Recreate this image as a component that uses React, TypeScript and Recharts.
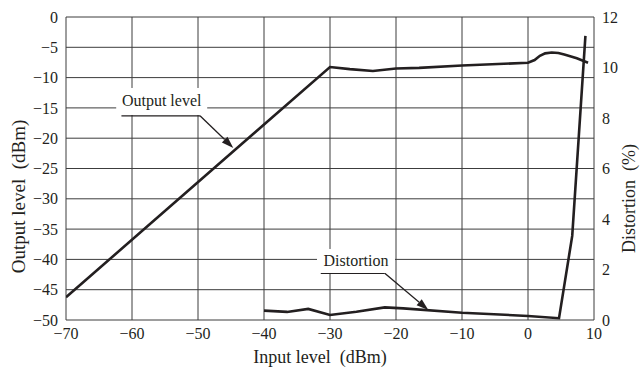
import {
  ComposedChart,
  Line,
  XAxis,
  YAxis,
  CartesianGrid,
  ReferenceLine,
  ReferenceDot,
} from "recharts";

const inputTicks = [-70, -60, -50, -40, -30, -20, -10, 0, 10];
const outputTicks = [-50, -45, -40, -35, -30, -25, -20, -15, -10, -5, 0];
const distortionTicks = [0, 2, 4, 6, 8, 10, 12];

// output level (dBm) vs input level (dBm)
const outInput = [-70, -30, -27, -23.5, -20, -16.5, -10, 0, 1, 1.8, 2.6, 3.6, 4.6, 5.5, 7.4, 9.1];
const outLevel = [-46.25, -8.25, -8.6, -8.9, -8.5, -8.4, -8.0, -7.55, -7.1, -6.4, -6.0, -5.85, -5.95, -6.2, -6.8, -7.55];

// distortion (%) vs input level (dBm)
const distInput = [-40, -36.5, -33.3, -30, -26, -21.7, -18.9, -10, 0, 4.7, 6.7, 8.7];
const distValue = [0.37, 0.32, 0.44, 0.2, 0.33, 0.5, 0.46, 0.29, 0.16, 0.07, 3.33, 11.25];

const outData = outInput.map((x, i) => ({ x, out: outLevel[i] }));
const distData = distInput.map((x, i) => ({ x, dist: distValue[i] }));

const INK = "#231f20";
const FONT = "'Liberation Serif', 'DejaVu Serif', serif";
const tickStyle = { fontSize: 16, fill: INK, fontFamily: FONT };
const labelStyle = { fontSize: 18, fill: INK, fontFamily: FONT };

const fmt = (v: number) => String(v).replace("-", "\u2212");

const arrowShape = (p: any) => {
  const { x1, y1, x2, y2 } = p;
  const a = Math.atan2(y2 - y1, x2 - x1);
  const L = 12;
  const W = 4;
  const bx = x2 - L * Math.cos(a);
  const by = y2 - L * Math.sin(a);
  const pts = `${x2},${y2} ${bx - W * Math.sin(a)},${by + W * Math.cos(a)} ${bx + W * Math.sin(a)},${by - W * Math.cos(a)}`;
  return (
    <g>
      <line x1={x1} y1={y1} x2={bx} y2={by} stroke={INK} strokeWidth={1.3} />
      <polygon points={pts} fill={INK} />
    </g>
  );
};

const boxLabel = (text: string, w: number, h: number) => (p: any) => (
  <g>
    <rect x={p.cx - w / 2} y={p.cy - h / 2} width={w} height={h} fill="#fff" />
    <text x={p.cx} y={p.cy + 5} textAnchor="middle" fontSize={16} fontFamily={FONT} fill={INK}>
      {text}
    </text>
  </g>
);

export default function App() {
  return (
    <div style={{ position: "absolute", left: 0, top: 0, width: 640, height: 372, background: "#fff" }}>
      <ComposedChart width={640} height={372} margin={{ top: 17, right: 0, bottom: 0, left: 0 }}>
        <CartesianGrid yAxisId="left" stroke="#3c3c3c" strokeWidth={1} />
        <XAxis
          type="number"
          dataKey="x"
          domain={[-70, 10]}
          ticks={inputTicks}
          allowDataOverflow
          height={52}
          axisLine={false}
          tickLine={false}
          tick={tickStyle}
          tickFormatter={fmt}
          label={{ value: "Input level\u00a0\u00a0(dBm)", position: "center", dx: -10, dy: 11, style: labelStyle }}
        />
        <YAxis
          yAxisId="left"
          type="number"
          domain={[-50, 0]}
          ticks={outputTicks}
          width={66}
          axisLine={false}
          tickLine={false}
          tick={tickStyle}
          tickFormatter={fmt}
          label={{ value: "Output level\u00a0\u00a0(dBm)", angle: -90, position: "center", dx: -15, dy: 28, style: { ...labelStyle, fontSize: 19 } }}
        />
        <YAxis
          yAxisId="right"
          orientation="right"
          type="number"
          domain={[0, 12]}
          ticks={distortionTicks}
          width={46}
          axisLine={false}
          tickLine={false}
          tick={{ ...tickStyle, textAnchor: "start" }}
          label={{ value: "Distortion\u00a0\u00a0(%)", angle: -90, position: "center", dx: 12, dy: 30, style: labelStyle }}
        />
        <ReferenceDot yAxisId="left" x={-55.5} y={-13.94} shape={boxLabel("Output level", 91, 27)} />
        <ReferenceDot yAxisId="left" x={-26.06} y={-40.26} shape={boxLabel("Distortion", 78, 24)} />
        <ReferenceLine
          yAxisId="left"
          segment={[{ x: -61.6, y: -16.3 }, { x: -49.7, y: -16.3 }]}
          stroke={INK}
          strokeWidth={1.3}
        />
        <ReferenceLine
          yAxisId="left"
          segment={[{ x: -49.7, y: -16.3 }, { x: -44.65, y: -21.6 }]}
          shape={arrowShape}
        />
        <ReferenceLine
          yAxisId="left"
          segment={[{ x: -31.4, y: -42.3 }, { x: -21.7, y: -42.3 }]}
          stroke={INK}
          strokeWidth={1.3}
        />
        <ReferenceLine
          yAxisId="left"
          segment={[{ x: -21.7, y: -42.3 }, { x: -15.1, y: -48.35 }]}
          shape={arrowShape}
        />
        <Line
          yAxisId="left"
          data={outData}
          dataKey="out"
          type="linear"
          stroke={INK}
          strokeWidth={2.6}
          dot={false}
          isAnimationActive={false}
        />
        <Line
          yAxisId="right"
          data={distData}
          dataKey="dist"
          type="linear"
          stroke={INK}
          strokeWidth={2.6}
          dot={false}
          isAnimationActive={false}
        />
      </ComposedChart>
    </div>
  );
}
